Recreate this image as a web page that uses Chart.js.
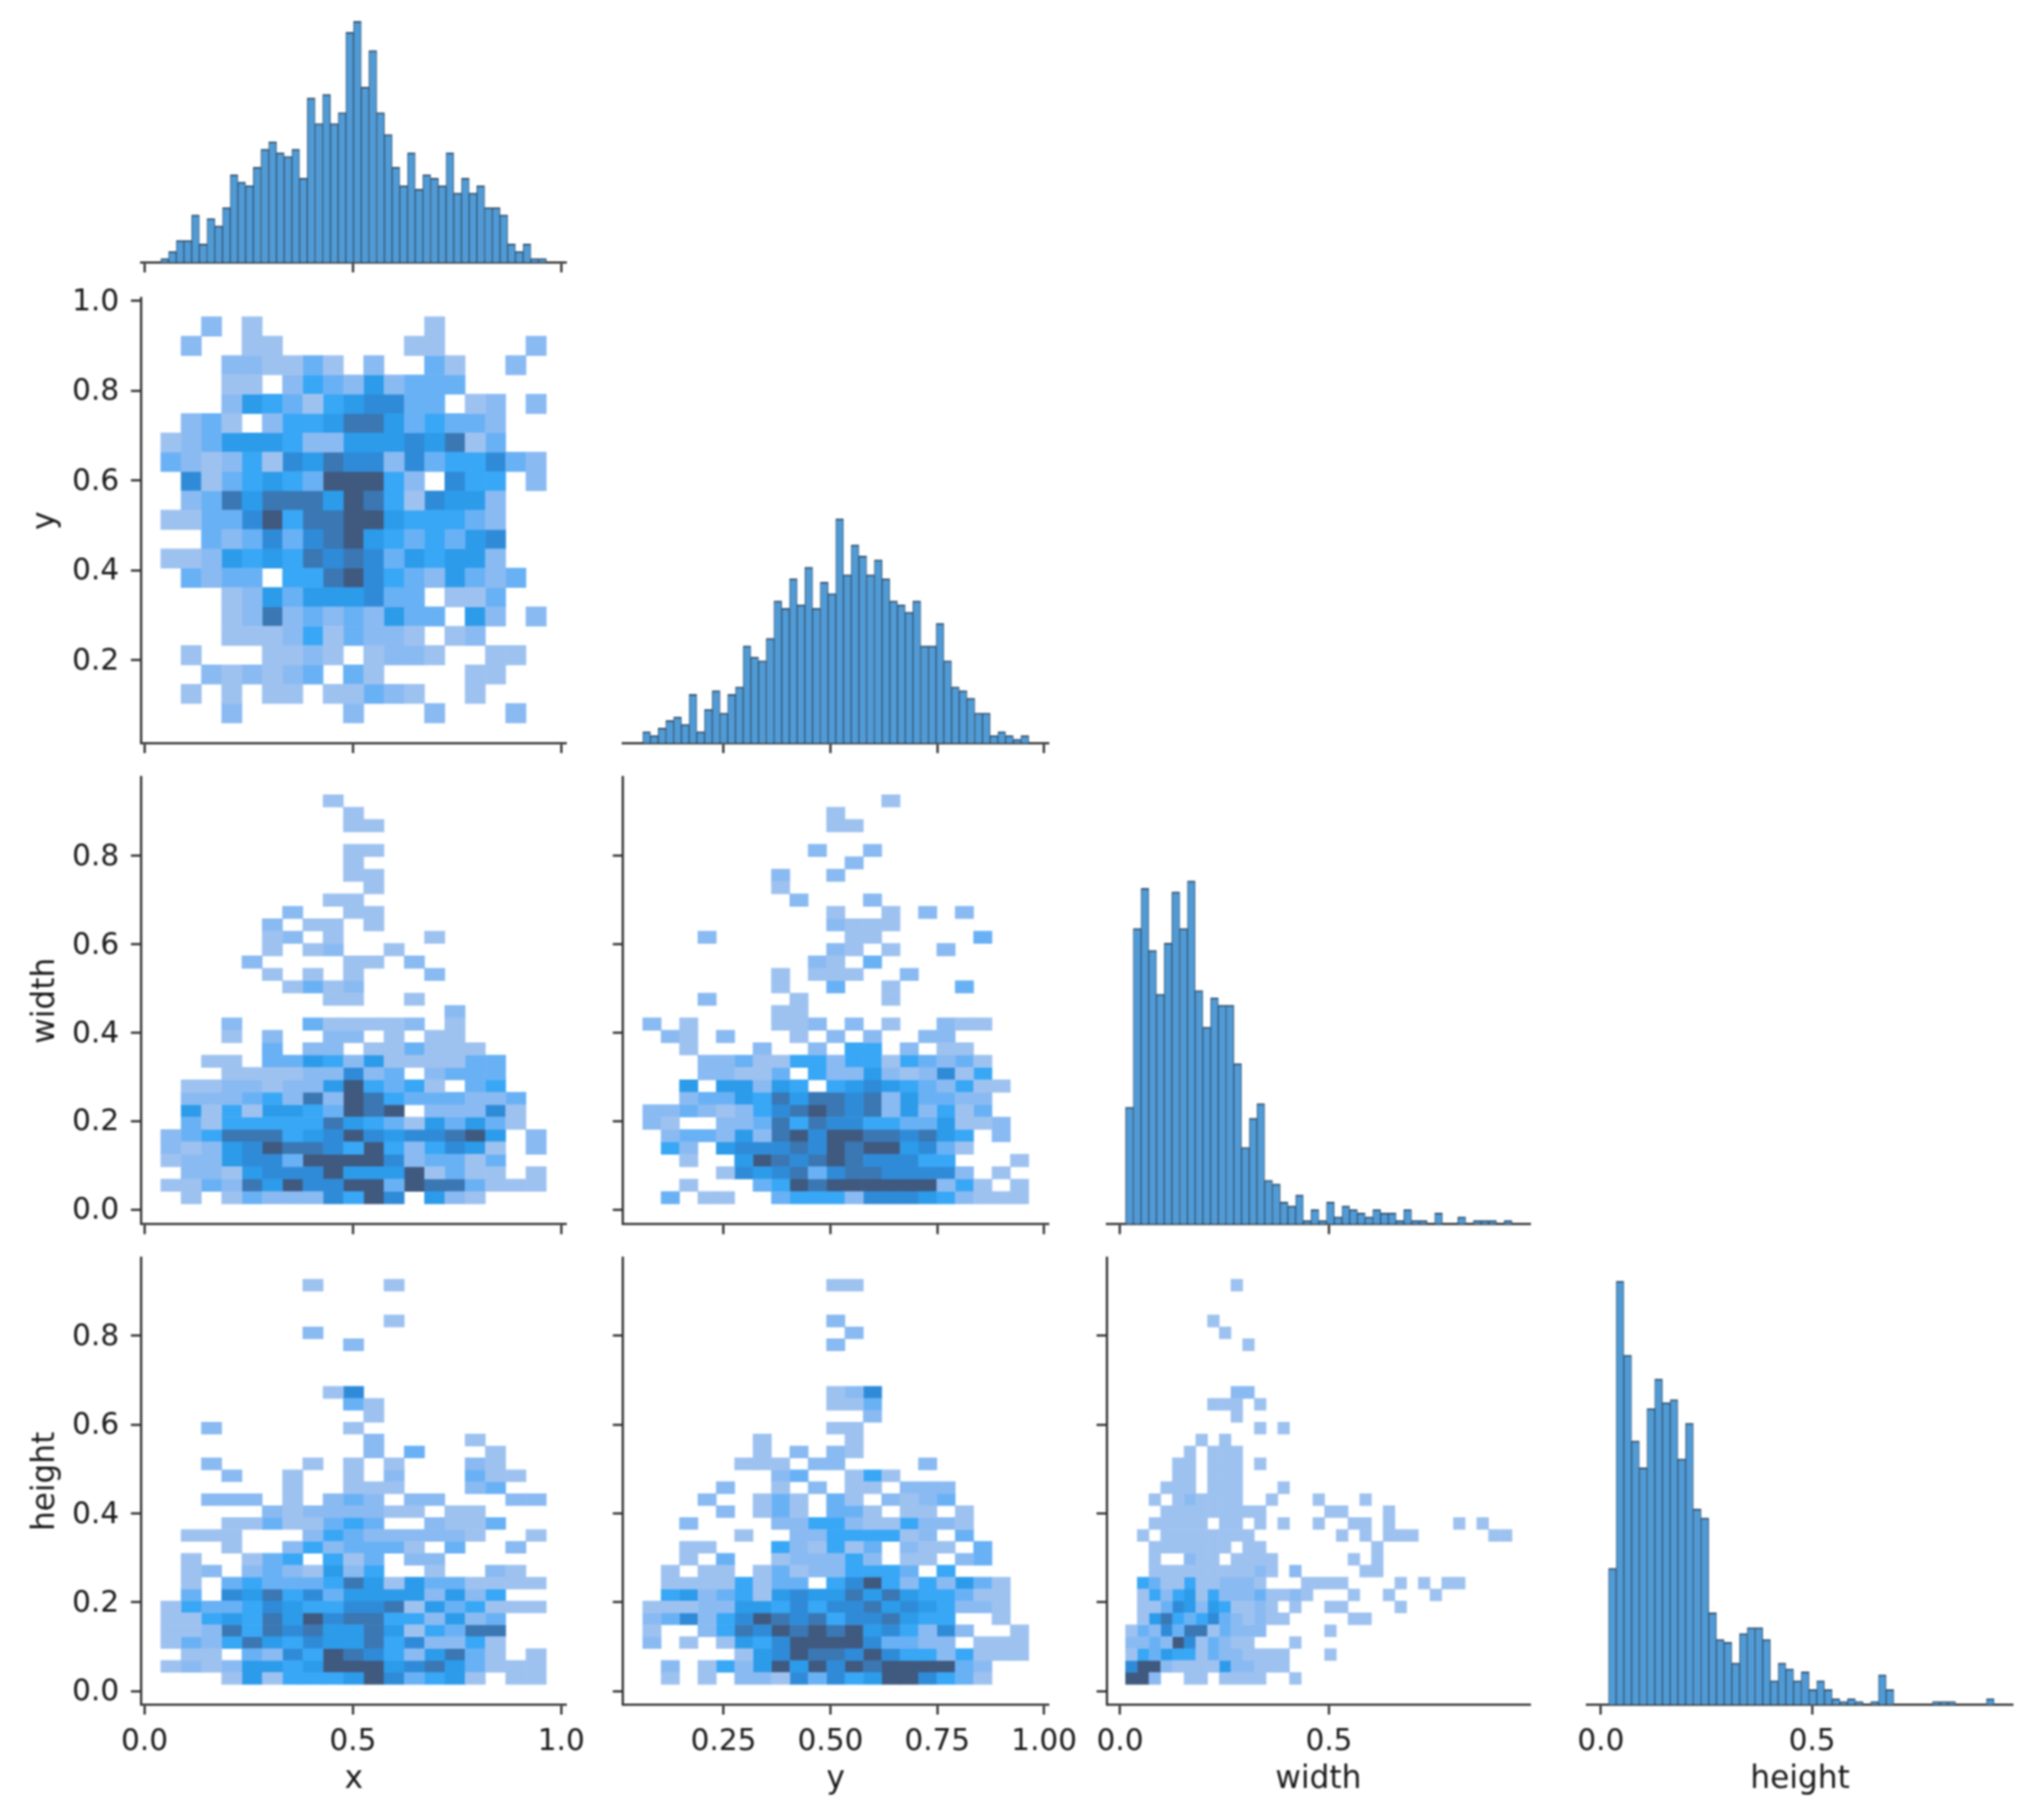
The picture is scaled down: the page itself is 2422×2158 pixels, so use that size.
<!DOCTYPE html>
<html>
<head>
<meta charset="utf-8">
<script src="https://cdn.jsdelivr.net/npm/chart.js@4"></script>
<style>
  html, body { margin: 0; background: #fff; }
  #wrap { position: relative; width: 2422px; height: 2158px; background: #fff; overflow: hidden; }
  canvas { position: absolute; filter: blur(0.8px); }
</style>
</head>
<body>
<div id="wrap"></div>
<script>
// Histogram counts, 50 bins each
const xHist = [1,3,6,6,13,5,12,10,15,24,22,21,26,31,33,30,29,31,23,45,38,46,38,41,63,66,48,58,41,35,26,21,30,20,24,23,21,30,19,23,19,21,15,15,13,5,3,5,1,1];
const yHist = [3,2,4,6,7,5,13,3,9,14,8,13,15,26,23,22,28,38,36,44,37,47,36,43,40,60,45,53,50,45,49,44,38,37,35,38,26,26,32,22,15,14,12,8,8,2,3,2,1,2];
const widthHist = [32,81,92,75,63,77,91,81,94,64,54,62,60,60,44,21,29,33,12,11,6,5,8,1,4,1,6,2,5,4,3,2,4,3,3,1,4,1,1,0,3,0,0,2,0,1,1,1,0,1];
const heightHist = [46,143,118,89,80,100,110,102,103,83,95,66,63,31,22,21,14,24,26,26,22,8,14,12,8,11,5,8,5,2,1,2,1,0,1,10,5,0,0,0,0,0,1,1,1,0,0,0,0,2];

// Data range covered by the bins of each variable
const xRange = [0.039, 0.964];
const yRange = [0.061, 0.964];
const widthRange = [0.0131, 0.938];
const heightRange = [0.0178, 0.931];

// 2D histograms, top row first. '.' is an empty cell, 1-8 the density level
const heatXY = [
  "..2.1........1.....",
  ".2..11......11....2",
  "...221131.2..31..2.",
  "...11.243252333....",
  "...25431456633.12.2",
  ".231.244577534332..",
  "12355542255565713..",
  "3212416576626344632",
  ".613454388842.644.2",
  ".2375777587416552..",
  "11336847788544432..",
  "..323636785434356..",
  "11254547676354552..",
  ".3233.447864325323.",
  "...1253555633.113..",
  "...12723232533.52.2",
  "...1112413221.12...",
  ".1...1121.1221..11.",
  "..212123.31....11..",
  ".1.1.11.11321..1...",
  "...2.....2...2...2."
];
const heatXWidth = [
  "........1..........",
  ".........1.........",
  ".........11........",
  "...................",
  ".........11........",
  ".........1.........",
  ".........11........",
  "..........1........",
  "........11.........",
  "......2..11........",
  ".....2.11.1........",
  ".....12.1....1.....",
  ".....1.12..1.......",
  "....2....11.2......",
  ".....1.1.1...2.....",
  "......1312.........",
  "........11..1......",
  "..............2....",
  "...2...311112.1....",
  "...1.2..22.1.11....",
  ".....3.22.113111...",
  "..11.335425111133..",
  "...111122623.2333..",
  ".1122122584341.34..",
  ".22234272874333223.",
  ".51415543878.22261.",
  ".31444447543153531.",
  "23477745686566785.2",
  "21256877648424651.2",
  "12256638888623313..",
  ".2215666855581311.1",
  "1132758668838773111",
  ".1.132226486.521..."
];
const heatYWidth = [
  ".............1.......",
  "..........1..........",
  "..........11.........",
  ".....................",
  ".........2..2........",
  "...........2.........",
  ".......2..2..........",
  ".......1.............",
  "........2...2........",
  "..........1..1.2.2...",
  "..........2111.......",
  "...2.......11.....3..",
  "..........21.1..2....",
  ".........21.3........",
  ".......1.111..2......",
  ".......1..3..1...3...",
  "...2....1....1.......",
  ".......11............",
  "2.1....112.2.1..211..",
  ".21.2...1.2.2..22....",
  "..1...2..2.44.2.11...",
  "...2231144244143231..",
  "...22113.4225212614..",
  "..5.55254.4565432411.",
  "..23354757767253322..",
  "2232124678767252413..",
  "21..2237476644335112.",
  ".23325278688776754.2.",
  ".42.56667687885631...",
  "..1..587678766644...1",
  "....16567367766662.1.",
  "..1...3487888888241.1",
  ".3.11..34442666542111"
];
const heatXHeight = [
  ".......1...1.......",
  "...................",
  "...................",
  "...........1.......",
  ".......2...........",
  ".........2.........",
  "...................",
  "...................",
  "...................",
  "........16.........",
  ".........31........",
  "..........1........",
  "..2......1.........",
  "..........2....1...",
  "..........2.3...1..",
  "..2....1.1.1...21..",
  "...2..1..1.2...311.",
  "......1..111...23..",
  "..222.1.232.22...22",
  ".....21222211.11...",
  "...11311343..2113..",
  ".111...243222221..1",
  "...1..2423331.3..2.",
  ".1..134.413.22.....",
  ".12.2321524..1..21.",
  ".1.3433347515331111",
  ".3.65746355552524..",
  "1433465446671534111",
  "11454758677442523..",
  "11274767557514377..",
  "13247546557462241..",
  ".11.3264876425731.1",
  "1212554588856753111",
  "...1514445863451.11"
];
const heatYHeight = [
  "..........11.........",
  ".....................",
  ".....................",
  "..........2..........",
  "...........2.........",
  "..........2..........",
  ".....................",
  ".....................",
  ".....................",
  "..........126........",
  "..........113........",
  "............2........",
  "..........11.........",
  "......1....1.........",
  "......1.2.21.........",
  ".....111.22....2.....",
  ".......23..141.......",
  "....2..1.2.11.222....",
  "...2..131.31.2123....",
  "....2.131.331.11.1...",
  "..2....22442114221...",
  ".....1..22444412.3...",
  "..11...421413.211.3..",
  "..1.3..122242.11.23..",
  ".1.11.131224443.4....",
  ".11114133.4684242531.",
  ".4523415655757544311.",
  "11122554646675654221.",
  "23624687674667544..1.",
  "1..247687878564262..1",
  "2.1.1546888863322.111",
  ".....1568776864424111",
  ".2.1425858687888832..",
  ".1.1.22163645886431.."
];
const heatWidthHeight = [
  ".........1.......................",
  ".................................",
  ".................................",
  ".......1.........................",
  "........1........................",
  "..........1......................",
  ".................................",
  ".................................",
  ".................................",
  ".........22......................",
  ".......111.1.....................",
  ".........1.......................",
  "...........1.1...................",
  "......1.1........................",
  ".....1.111.......................",
  "....11.111.1.....................",
  "....11.111.......................",
  "...111.111...1...................",
  "..1.121111..1...1...1............",
  "...111111111.....11...1..........",
  "..11111.11.1.1..1..11.1.....1.1..",
  ".1.11111111.......1.1.111......11",
  "..1111111.11.........1...........",
  "..1..211.1111......1.1...........",
  "..11111111121.2.....11...........",
  ".43114112221...1111....1.1.11....",
  ".142451422231121...1..1...1......",
  ".113652541121.1..11....1.........",
  ".1574346321211.....11............",
  "132637713222.....1...............",
  "22328613211...1..................",
  "14354413221111...1...............",
  "68821111522111...................",
  "882..11.1111..1.................."
];

// Tick values and labels
const xTicks = [0, 0.5, 1];
const xTickLabels = ["0.0", "0.5", "1.0"];
const yTicks = [0.25, 0.5, 0.75, 1];
const yTickLabels = ["0.25", "0.50", "0.75", "1.00"];
const sizeTicks = [0, 0.5];
const sizeTickLabels = ["0.0", "0.5"];
const rowTicks = [0.2, 0.4, 0.6, 0.8, 1];
const rowTickLabels = ["0.2", "0.4", "0.6", "0.8", "1.0"];
const sizeRowTicks = [0, 0.2, 0.4, 0.6, 0.8];
const sizeRowTickLabels = ["0.0", "0.2", "0.4", "0.6", "0.8"];

// Where each panel sits on the page, with the axis limits that go with it
const columns = [
  { left: 167.2, right: 671.7, min: -0.0085, max: 1.0128, ticks: xTicks, labels: xTickLabels, title: "x", range: xRange },
  { left: 738.5, right: 1243, min: 0.0146, max: 1.0102, ticks: yTicks, labels: yTickLabels, title: "y", range: yRange },
  { left: 1312, right: 1814, min: -0.0321, max: 0.9815, ticks: sizeTicks, labels: sizeTickLabels, title: "width", range: widthRange },
  { left: 1881.4, right: 2386.5, min: -0.033, max: 0.9758, ticks: sizeTicks, labels: sizeTickLabels, title: "height", range: heightRange }
];
const rows = [
  { top: 11, bottom: 311 },
  { top: 353.6, bottom: 881, min: 0.0158, max: 1.006, ticks: rowTicks, labels: rowTickLabels, title: "y", range: yRange },
  { top: 921.8, bottom: 1451.4, min: -0.0326, max: 0.977, ticks: sizeRowTicks, labels: sizeRowTickLabels, title: "width", range: widthRange },
  { top: 1491.8, bottom: 2021, min: -0.0296, max: 0.974, ticks: sizeRowTicks, labels: sizeRowTickLabels, title: "height", range: heightRange }
];

const INK = "#2b2b2b";
const FONT = "'DejaVu Sans'";
const levelColors = ["#9ec2f0", "#8abaf2", "#69b1f5", "#38a7f6", "#2c9bea", "#2f8bd8", "#3a77b3", "#40597f"];
const histFill = "#509bd6";
const histEdge = "rgba(32,62,92,0.9)";

function ticksFor(values) {
  return s => { s.ticks = values.map(v => ({ value: v })); };
}

function makePanel(col, row, datasets, yMax) {
  const c = columns[col], r = rows[row];
  const isHist = yMax !== undefined;
  const onLeft = col === 0, onBottom = row === 3;
  const canvasLeft = Math.floor(c.left - (onLeft ? 150 : 40));
  const canvasTop = Math.max(0, Math.floor(r.top - 30));
  const padL = c.left - canvasLeft;
  const padT = r.top - canvasTop;
  const padR = 50, padB = 112;

  const canvas = document.createElement("canvas");
  canvas.width = Math.ceil(c.right + padR) - canvasLeft;
  canvas.height = Math.ceil(r.bottom + padB) - canvasTop;
  canvas.style.left = canvasLeft + "px";
  canvas.style.top = canvasTop + "px";
  document.getElementById("wrap").appendChild(canvas);

  const rightPad = canvas.width - (c.right - canvasLeft);
  const bottomPad = canvas.height - (r.bottom - canvasTop);

  return new Chart(canvas.getContext("2d"), {
    type: "bar",
    data: { datasets: datasets },
    options: {
      responsive: false,
      animation: false,
      devicePixelRatio: 1,
      layout: { padding: { left: isHist ? padL : 0, top: padT, right: rightPad, bottom: 0 } },
      plugins: { legend: { display: false }, tooltip: { enabled: false } },
      scales: {
        x: {
          type: "linear",
          offset: false,
          min: c.min,
          max: c.max,
          border: { display: true, color: INK, width: 2.6 },
          grid: { display: true, offset: false, drawOnChartArea: false, drawTicks: true, tickLength: 12, tickWidth: 2.6, tickColor: INK },
          afterBuildTicks: ticksFor(c.ticks),
          ticks: {
            display: onBottom,
            autoSkip: false,
            maxRotation: 0,
            padding: 12,
            color: "#1a1a1a",
            font: { family: FONT, size: 35 },
            callback: (v, i) => c.labels[i]
          },
          title: {
            display: onBottom,
            text: c.title,
            color: "#1a1a1a",
            font: { family: FONT, size: 37 },
            padding: { top: 0, bottom: 0 }
          },
          afterFit: s => { s.height = bottomPad; s.paddingLeft = 0; s.paddingRight = 0; }
        },
        y: isHist ? { display: false, min: 0, max: yMax } : {
          type: "linear",
          min: r.min,
          max: r.max,
          border: { display: true, color: INK, width: 2.6 },
          grid: { display: true, drawOnChartArea: false, drawTicks: true, tickLength: 12, tickWidth: 2.6, tickColor: INK },
          afterBuildTicks: ticksFor(r.ticks),
          ticks: {
            display: onLeft,
            autoSkip: false,
            padding: 14,
            labelOffset: 2,
            color: "#1a1a1a",
            font: { family: FONT, size: 35 },
            callback: (v, i) => r.labels[i]
          },
          title: {
            display: onLeft,
            text: r.title,
            color: "#1a1a1a",
            font: { family: FONT, size: 37 },
            padding: { top: 15, bottom: 0 }
          },
          afterFit: s => { s.width = padL; s.paddingTop = 0; s.paddingBottom = 0; }
        }
      }
    }
  });
}

function histDataset(counts, range) {
  const w = (range[1] - range[0]) / counts.length;
  return [{
    data: counts.map((n, i) => ({ x: range[0] + (i + 0.5) * w, y: n })),
    backgroundColor: histFill,
    borderColor: histEdge,
    borderWidth: { top: 2, left: 1, right: 1, bottom: 0 },
    borderSkipped: false,
    barPercentage: 1,
    categoryPercentage: 1
  }];
}

function heatDatasets(grid, xr, yr) {
  const w = (xr[1] - xr[0]) / grid[0].length;
  const h = (yr[1] - yr[0]) / grid.length;
  return levelColors.map((color, k) => {
    const cells = [];
    grid.forEach((line, r) => {
      for (let c = 0; c < line.length; c++) {
        if (line[c] === String(k + 1)) {
          const hi = yr[1] - r * h;
          cells.push({ x: xr[0] + (c + 0.5) * w, y: [hi - h, hi] });
        }
      }
    });
    return {
      data: cells,
      backgroundColor: color,
      borderWidth: 0,
      grouped: false,
      barPercentage: 1,
      categoryPercentage: 1
    };
  });
}

// Diagonal
makePanel(0, 0, histDataset(xHist, xRange), 69.3);
makePanel(1, 1, histDataset(yHist, yRange), 119);
makePanel(2, 2, histDataset(widthHist, widthRange), 122.4);
makePanel(3, 3, histDataset(heightHist, heightRange), 150.8);

// Lower triangle
makePanel(0, 1, heatDatasets(heatXY, xRange, [0.0607, 0.9645]));
makePanel(0, 2, heatDatasets(heatXWidth, xRange, widthRange));
makePanel(1, 2, heatDatasets(heatYWidth, yRange, widthRange));
makePanel(0, 3, heatDatasets(heatXHeight, xRange, [0.0157, 0.9266]));
makePanel(1, 3, heatDatasets(heatYHeight, yRange, [0.0157, 0.9266]));
makePanel(2, 3, heatDatasets(heatWidthHeight, widthRange, [0.0157, 0.9266]));
</script>
</body>
</html>
